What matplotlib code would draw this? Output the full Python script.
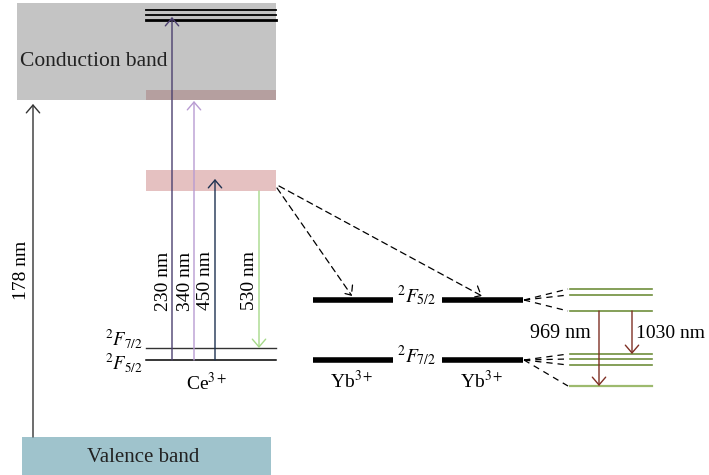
import matplotlib.pyplot as plt
from matplotlib.patches import Rectangle

plt.rcParams['font.family'] = ['Liberation Serif', 'DejaVu Serif']
plt.rcParams['mathtext.fontset'] = 'stix'

# level positions (pixel rows, top = 0)
cb_top, cb_bottom = 3, 100
vb_top, vb_bottom = 437, 475
ce_high_levels = [9.5, 14.5, 19.5]
ce_5d2 = (90, 100)
ce_5d1 = (170, 191)
ce_f72, ce_f52 = 348, 360
yb_f52, yb_f72 = 300, 360
stark_upper = [289, 295, 311]
stark_lower = [354, 359, 365, 386]

# Ce3+ transitions: x, start, end, label, colour
ce_x = [172, 194, 215, 259]
ce_start = [360, 360, 360, 191]
ce_end = [17, 101, 179, 348]
ce_labels = ['230 nm', '340 nm', '450 nm', '530 nm']
ce_colors = ['#4b3f6e', '#b89bd2', '#1d3150', '#a6d98a']

# Yb3+ emissions
yb_x = [599, 632]
yb_start = [311, 311]
yb_end = [386, 354]
yb_labels = ['969 nm', '1030 nm']

HEAD = '->,head_width=0.3,head_length=0.35'

fig = plt.figure(figsize=(7.09, 4.75), dpi=100)
ax = fig.add_axes([0, 0, 1, 1])
ax.set_xlim(0, 709)
ax.set_ylim(475, 0)
ax.axis('off')

# bands
ax.add_patch(Rectangle((17, cb_top), 259, cb_bottom - cb_top, color='#c4c4c4', lw=0))
ax.add_patch(Rectangle((146, ce_5d2[0]), 130, ce_5d2[1] - ce_5d2[0], color='#b59f9f', lw=0))
ax.add_patch(Rectangle((146, ce_5d1[0]), 130, ce_5d1[1] - ce_5d1[0], color='#e5c1c1', lw=0))
ax.add_patch(Rectangle((22, vb_top), 249, vb_bottom - vb_top, color='#9fc3cc', lw=0))
ax.text(20, 61, 'Conduction band', fontsize=15.5, va='center', ha='left', color='#222222')
ax.text(143, 458, 'Valence band', fontsize=15, va='center', ha='center', color='#222222')

for y, w in zip(ce_high_levels, [1.3, 1.3, 2.0]):
    ax.plot([146, 276], [y, y], color='black', lw=w)

# band-gap excitation
ax.annotate('', xy=(33, 104), xytext=(33, vb_top),
            arrowprops=dict(arrowstyle=HEAD, color='#333333', lw=1.0, mutation_scale=16,
                            shrinkA=0, shrinkB=0))
ax.text(21, 270, '178 nm', rotation=90, fontsize=14, ha='center', va='center')

# Ce3+ ground levels
ax.plot([146, 276], [ce_f72, ce_f72], color='#333333', lw=1.0)
ax.plot([146, 276], [ce_f52, ce_f52], color='black', lw=1.1)
ax.text(143, 339, r'$^2F_{7/2}$', fontsize=13.5, ha='right', va='center')
ax.text(143, 362, r'$^2F_{5/2}$', fontsize=13.5, ha='right', va='center')
ax.text(207, 383, r'Ce$^{3+}$', fontsize=14, ha='center', va='center')

for x, y0, y1, lab, c in zip(ce_x, ce_start, ce_end, ce_labels, ce_colors):
    ax.annotate('', xy=(x, y1), xytext=(x, y0),
                arrowprops=dict(arrowstyle=HEAD, color=c, lw=1.0, mutation_scale=16,
                                shrinkA=0, shrinkB=0))
    ax.text(x - 9, 281, lab, rotation=90, fontsize=14, ha='center', va='center')

# energy transfer to Yb3+
ax.annotate('', xy=(352, 296), xytext=(277, 188),
            arrowprops=dict(arrowstyle=HEAD, color='black', lw=0.9, ls=(0, (5, 3.5)),
                            mutation_scale=16, shrinkA=0, shrinkB=0))
ax.annotate('', xy=(482, 296), xytext=(279, 186),
            arrowprops=dict(arrowstyle=HEAD, color='black', lw=0.9, ls=(0, (5, 3.5)),
                            mutation_scale=16, shrinkA=0, shrinkB=0))

# Yb3+ levels
for x0, x1 in [(313, 393), (442, 523)]:
    ax.plot([x0, x1], [yb_f52, yb_f52], color='black', lw=4, solid_capstyle='butt')
    ax.plot([x0, x1], [yb_f72, yb_f72], color='black', lw=4, solid_capstyle='butt')
ax.text(417, 296, r'$^2F_{5/2}$', fontsize=14, ha='center', va='center')
ax.text(417, 356, r'$^2F_{7/2}$', fontsize=14, ha='center', va='center')
ax.text(352, 381, r'Yb$^{3+}$', fontsize=14, ha='center', va='center')
ax.text(482, 381, r'Yb$^{3+}$', fontsize=14, ha='center', va='center')

# Stark sublevels
for y in stark_upper:
    ax.plot([524, 568], [yb_f52, y], color='black', lw=0.9, ls=(0, (5, 4)))
    ax.plot([570, 652], [y, y], color='#6f8f3c', lw=1.2)
for i, y in enumerate(stark_lower):
    ax.plot([524, 568], [yb_f72, y], color='black', lw=0.9, ls=(0, (5, 4)))
    last = i == len(stark_lower) - 1
    ax.plot([570, 652], [y, y], color='#9dba6e' if last else '#6f8f3c', lw=1.6 if last else 1.2)

for x, y0, y1 in zip(yb_x, yb_start, yb_end):
    ax.annotate('', xy=(x, y1), xytext=(x, y0),
                arrowprops=dict(arrowstyle=HEAD, color='#7f2f24', lw=1.0, mutation_scale=16,
                                shrinkA=0, shrinkB=0))
ax.text(560, 334, yb_labels[0], fontsize=14.5, ha='center', va='center')
ax.text(671, 334, yb_labels[1], fontsize=14, ha='center', va='center')

fig.savefig('out.png', dpi=100)
